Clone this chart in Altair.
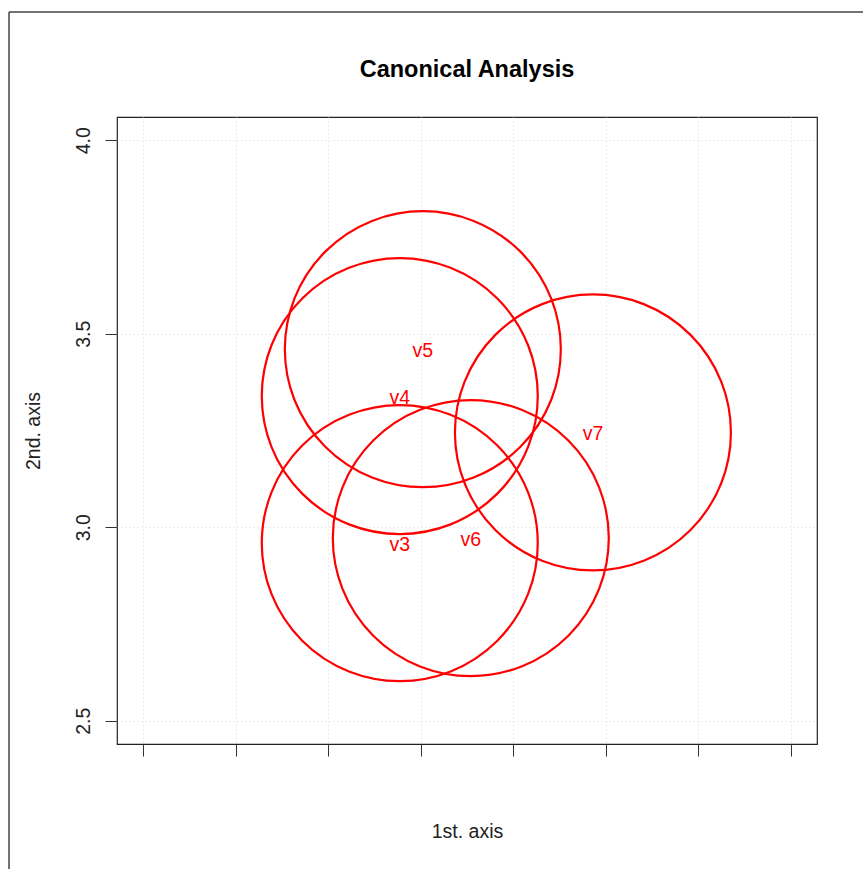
import altair as alt
import pandas as pd

# data
labels = ["v3", "v4", "v5", "v6", "v7"]
axis1 = [3.774, 3.774, 4.023, 4.541, 5.860]
axis2 = [2.959, 3.339, 3.460, 2.972, 3.245]

x_ticks = [1, 2, 3, 4, 5, 6, 7, 8]
y_ticks = [2.5, 3.0, 3.5, 4.0]
title_text = ["Canonical Analysis"]

df = pd.DataFrame({"label": labels, "x": axis1, "y": axis2})
frame_df = pd.DataFrame({"k": [0]})
title_df = pd.DataFrame({"t": title_text})

W, H = 700, 627
PAD = {"left": 117, "top": 117, "right": 46, "bottom": 125}
RED = "#ff0000"
CIRCLE_SIZE = 276 ** 2  # Vega circle radius = sqrt(size)/2 -> ~138px

xs = alt.Scale(domain=[0.72, 8.28], nice=False, zero=False)
ys = alt.Scale(domain=[2.44, 4.06], nice=False, zero=False)

x_enc = alt.X("x:Q", scale=xs, axis=alt.Axis(
    values=x_ticks, labels=False, title="1st. axis", titleFont="Liberation Sans",
    titleFontSize=19.5, titleFontWeight="normal", titleColor="#222",
    titlePadding=66, tickSize=12, tickColor="#333", domain=False,
    grid=True, gridColor="#d9d9d9", gridDash=[1, 3], gridWidth=1))
y_enc = alt.Y("y:Q", scale=ys, axis=alt.Axis(
    values=y_ticks, format=".1f", labelAngle=270, labelAlign="center",
    labelBaseline="bottom", labelPadding=12, labelFont="Liberation Sans",
    labelFontSize=19.5, labelColor="#222", title="2nd. axis",
    titleFont="Liberation Sans", titleFontSize=19.5, titleFontWeight="normal",
    titleColor="#222", titlePadding=30, tickSize=12, tickColor="#333",
    domain=False, grid=True, gridColor="#d9d9d9", gridDash=[1, 3], gridWidth=1))

circles = alt.Chart(df).mark_point(
    shape="circle", filled=False, color=RED, strokeWidth=2.2,
    size=CIRCLE_SIZE, opacity=1).encode(x=x_enc, y=y_enc)

texts = alt.Chart(df).mark_text(
    color=RED, font="Liberation Sans", fontSize=19.5, align="center",
    baseline="middle", dy=2).encode(x=alt.X("x:Q", scale=xs), y=alt.Y("y:Q", scale=ys),
                                    text="label:N")

title = alt.Chart(title_df).mark_text(
    font="Liberation Sans", fontSize=23.5, fontWeight="bold", color="#000",
    align="center", baseline="middle").encode(
    x=alt.value(W / 2), y=alt.value(-47), text="t:N")

frame_left = alt.Chart(frame_df).mark_rule(color="#444", strokeWidth=1.5).encode(
    x=alt.value(-108), y=alt.value(-105), y2=alt.value(H + PAD["bottom"]))
frame_top = alt.Chart(frame_df).mark_rule(color="#444", strokeWidth=1.5).encode(
    x=alt.value(-108), x2=alt.value(W + PAD["right"]), y=alt.value(-105))

chart = alt.layer(circles, texts, title, frame_left, frame_top).properties(
    width=W, height=H,
    autosize=alt.AutoSizeParams(type="none"),
    padding=PAD,
    background="white",
).configure_view(stroke="#222", strokeWidth=1.2)

chart.save("out.html", embed_options={"renderer": "svg", "actions": False})
